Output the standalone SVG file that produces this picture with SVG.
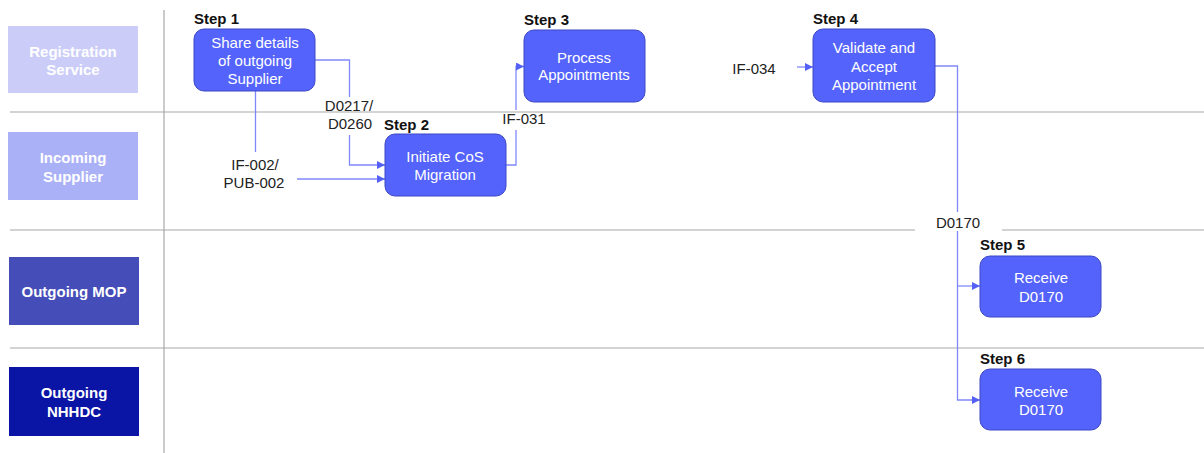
<svg xmlns="http://www.w3.org/2000/svg" width="1204" height="453" viewBox="0 0 1204 453">
<style>
text{font-family:"Liberation Sans",Arial,sans-serif;font-size:15px}
.lane text{fill:#fff;font-weight:bold;text-anchor:middle}
.step rect{fill:#5463fb;stroke:#3d48c4;stroke-width:1}
.step .t{fill:#fff;text-anchor:middle}
.step .s{fill:#111;font-weight:bold}
.grid line{stroke:#a8a8a8;stroke-width:1.2}
.conn path{fill:none;stroke:#7f88fa;stroke-width:1.3}
.lbl{fill:#222;text-anchor:middle}
</style>
<defs>
<marker id="arr" viewBox="0 0 10 10" refX="10" refY="5" markerWidth="9" markerHeight="8" markerUnits="userSpaceOnUse" orient="auto">
<path d="M0,0 L10,5 L0,10 Z" fill="#5561f5"/>
</marker>
</defs>
<rect width="1204" height="453" fill="#fff"/>
<g class="grid">
<line x1="164" y1="10" x2="164" y2="453"/>
<line x1="10" y1="112" x2="1204" y2="112"/>
<line x1="10" y1="230" x2="915" y2="230"/>
<line x1="1002" y1="230" x2="1204" y2="230"/>
<line x1="10" y1="348" x2="1204" y2="348"/>
</g>
<g class="lane">
<g id="lane-registration"><rect x="8" y="26" width="130" height="67" fill="#cbcdf8"/><text x="73" y="57">Registration</text><text x="73" y="75">Service</text></g>
<g id="lane-incoming"><rect x="8" y="132" width="130" height="68" fill="#abb1f7"/><text x="73" y="163">Incoming</text><text x="73" y="182">Supplier</text></g>
<g id="lane-mop"><rect x="9" y="257" width="130" height="68" fill="#454db8"/><text x="74" y="297">Outgoing MOP</text></g>
<g id="lane-nhhdc"><rect x="9" y="367" width="130" height="69" fill="#0a14a5"/><text x="74" y="398">Outgoing</text><text x="74" y="417">NHHDC</text></g>
</g>
<g class="conn">
<path d="M315,60 H349.5 V97"/>
<path d="M349.5,135 V165 H385" marker-end="url(#arr)"/>
<path d="M255.5,91 V152"/>
<path d="M297,179 H385" marker-end="url(#arr)"/>
<path d="M506,165 H516 V130"/>
<path d="M516,110 V66.5 H524" marker-end="url(#arr)"/>
<path d="M797,67 H813" marker-end="url(#arr)"/>
<path d="M935,66 H957.5 V212"/>
<path d="M957.5,231 V400 H980" marker-end="url(#arr)"/>
<path d="M957.5,286 H980" marker-end="url(#arr)"/>
</g>
<g id="labels">
<text class="lbl" x="349" y="111">D0217/</text>
<text class="lbl" x="350" y="129">D0260</text>
<text class="lbl" x="255" y="170">IF-002/</text>
<text class="lbl" x="254" y="188">PUB-002</text>
<text class="lbl" x="524" y="124">IF-031</text>
<text class="lbl" x="754" y="74">IF-034</text>
<text class="lbl" x="958" y="228">D0170</text>
</g>
<g class="step">
<g id="step1"><text class="s" x="194" y="24">Step 1</text><rect x="194" y="29" width="121" height="62" rx="10"/><text class="t" x="255" y="48">Share details</text><text class="t" x="255" y="66">of outgoing</text><text class="t" x="255" y="84">Supplier</text></g>
<g id="step2"><text class="s" x="384" y="130">Step 2</text><rect x="385" y="134" width="121" height="62" rx="10"/><text class="t" x="445" y="162">Initiate CoS</text><text class="t" x="445" y="180">Migration</text></g>
<g id="step3"><text class="s" x="524" y="25">Step 3</text><rect x="524" y="30" width="121" height="72" rx="10"/><text class="t" x="584" y="63">Process</text><text class="t" x="584" y="80">Appointments</text></g>
<g id="step4"><text class="s" x="813" y="24">Step 4</text><rect x="813" y="29" width="122" height="73" rx="10"/><text class="t" x="874" y="53">Validate and</text><text class="t" x="874" y="72">Accept</text><text class="t" x="874" y="90">Appointment</text></g>
<g id="step5"><text class="s" x="980" y="250">Step 5</text><rect x="980" y="256" width="121" height="61" rx="10"/><text class="t" x="1041" y="283">Receive</text><text class="t" x="1041" y="302">D0170</text></g>
<g id="step6"><text class="s" x="980" y="364">Step 6</text><rect x="980" y="369" width="121" height="61" rx="10"/><text class="t" x="1041" y="397">Receive</text><text class="t" x="1041" y="415">D0170</text></g>
</g>
</svg>
